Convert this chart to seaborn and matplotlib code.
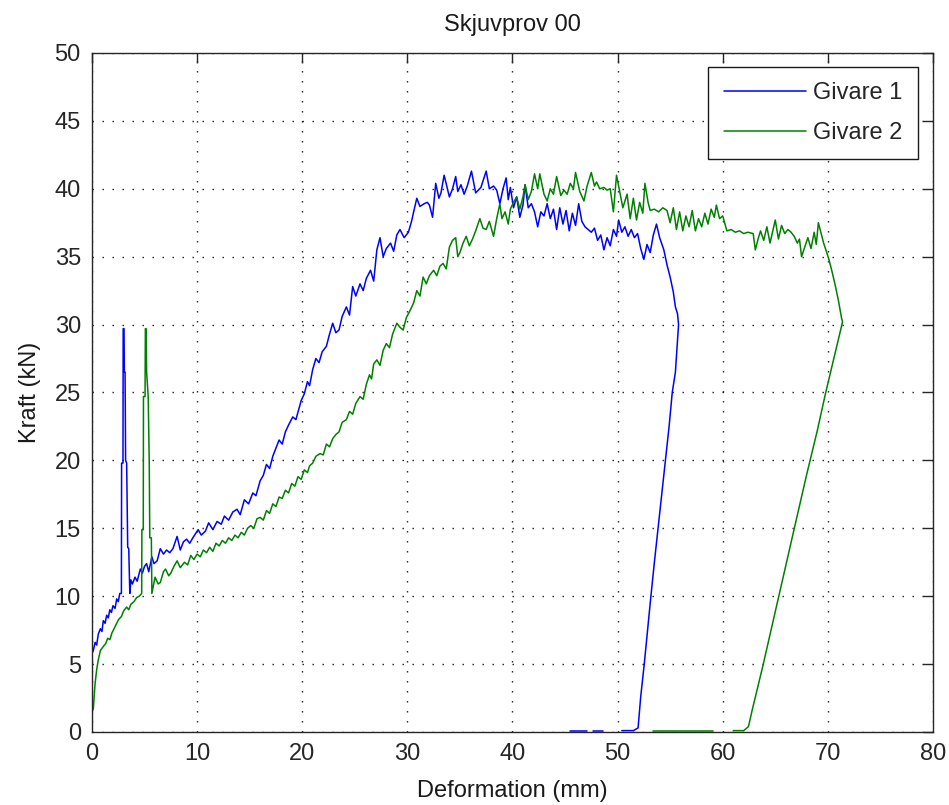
import numpy as np
import pandas as pd
import matplotlib
matplotlib.use("Agg")
import matplotlib.pyplot as plt
import seaborn as sns

# ---- Givare 1: loading / unloading curve (deformation mm, force kN) ----
g1_x = [0.0, 0.13, 0.3, 0.45, 0.6, 0.8, 0.95, 1.08, 1.25, 1.4, 1.55, 1.7, 1.85, 2.0, 2.2,
        2.35, 2.5, 2.65, 2.8, 2.82, 2.95, 2.97, 3.05, 3.08, 3.15, 3.2, 3.3, 3.4, 3.5, 3.6,
        3.7, 3.85, 4.1, 4.3, 4.6, 4.8, 5.0, 5.2, 5.4, 5.7, 5.9, 6.2, 6.5, 6.8, 7.1, 7.4,
        7.7, 8.1, 8.4, 8.7, 9.0, 9.3, 9.6, 10.1, 10.4, 10.8, 11.1, 11.5, 11.9, 12.3, 12.6,
        13.0, 13.4, 13.8, 14.1, 14.5, 14.9, 15.3, 15.6, 16.0, 16.3, 16.6, 16.9, 17.2, 17.5,
        17.8, 18.1, 18.4, 18.7, 19.1, 19.4, 19.9, 20.2, 20.5, 20.7, 21.0, 21.3, 21.6, 21.9,
        22.3, 22.6, 22.9, 23.2, 23.5, 23.8, 24.2, 24.5, 24.8, 25.1, 25.5, 25.8, 26.1, 26.5,
        26.8, 27.1, 27.4, 27.7, 28.0, 28.4, 28.7, 29.0, 29.3, 29.7, 30.1, 30.4, 30.6, 30.9,
        31.2, 31.6, 31.9, 32.1, 32.4, 32.7, 33.0, 33.2, 33.5, 34.0, 34.3, 34.6, 34.8, 35.1,
        35.4, 35.7, 36.1, 36.5, 37.0, 37.5, 37.8, 38.2, 38.5, 38.8, 39.1, 39.4, 39.6, 39.8,
        40.1, 40.4, 40.7, 41.0, 41.2, 41.5, 41.8, 42.1, 42.4, 42.7, 43.0, 43.3, 43.6, 43.9,
        44.2, 44.5, 44.8, 45.1, 45.4, 45.7, 46.0, 46.3, 46.6, 46.9, 47.2, 47.5, 47.8, 48.1,
        48.4, 48.7, 49.0, 49.3, 49.6, 49.9, 50.1, 50.4, 50.7, 51.0, 51.3, 51.6, 51.9, 52.2,
        52.5, 52.8, 53.1, 53.4, 53.7, 54.0, 54.4, 54.7, 55.0, 55.3, 55.5, 55.7, 55.8, 55.5,
        55.2, 54.9, 54.55, 54.2, 53.85, 53.5, 53.13, 52.95, 52.55, 52.2, 51.95, 51.5, 50.4]
g1_y = [5.8, 6.0, 6.6, 6.4, 7.2, 7.6, 7.4, 8.2, 8.0, 8.6, 8.4, 9.0, 8.8, 9.3, 9.1,
        9.8, 9.6, 10.2, 10.2, 19.8, 19.8, 29.7, 29.7, 26.5, 26.5, 20.0, 19.8, 13.6, 13.5, 10.2,
        11.2, 10.9, 11.4, 11.1, 12.0, 11.7, 12.2, 12.4, 11.8, 12.9, 12.4, 12.6, 13.5, 13.1, 13.4, 13.2,
        13.5, 14.4, 13.4, 14.0, 14.2, 13.9, 14.3, 14.9, 14.5, 14.8, 15.4, 14.9, 15.5, 15.3, 15.9,
        15.6, 16.2, 16.4, 16.0, 17.1, 16.8, 17.6, 17.4, 18.5, 18.9, 19.7, 19.4, 20.3, 20.9,
        21.5, 21.2, 22.1, 22.6, 23.2, 23.0, 24.4, 24.9, 25.8, 25.5, 26.7, 27.5, 27.2, 28.0,
        28.4, 29.3, 30.1, 29.4, 29.6, 30.6, 31.3, 30.7, 32.8, 32.1, 33.0, 32.5, 33.4, 34.0,
        33.2, 35.5, 36.4, 35.0, 35.6, 36.0, 35.4, 36.6, 37.0, 36.4, 36.8, 37.6, 38.3, 39.3,
        38.7, 38.9, 39.0, 38.8, 37.9, 40.4, 39.3, 39.7, 41.0, 39.4, 40.0, 40.9, 39.8, 40.3,
        39.6, 40.2, 41.3, 39.7, 40.1, 41.3, 40.0, 40.2, 39.9, 38.9, 40.0, 40.8, 39.2, 40.1,
        38.6, 39.4, 37.9, 38.8, 40.3, 38.6, 38.9, 38.3, 37.2, 38.3, 38.0, 38.9, 37.8, 38.5,
        37.0, 38.6, 37.4, 38.4, 36.9, 38.2, 37.3, 38.9, 37.6, 37.2, 37.0, 36.8, 37.1, 36.2,
        36.6, 35.5, 36.4, 35.8, 37.0, 36.5, 37.7, 36.8, 37.2, 36.5, 37.0, 36.4, 36.7, 35.6,
        34.8, 35.9, 35.3, 36.6, 37.4, 36.4, 35.5, 34.4, 33.5, 32.4, 31.3, 30.8, 30.0, 26.5,
        25.0, 22.5, 20.0, 17.5, 15.0, 12.5, 9.7, 8.25, 5.1, 2.6, 0.3, 0.1, 0.1]
g1_tail_a_x = [48.65, 47.7]
g1_tail_a_y = [0.1, 0.1]
g1_tail_b_x = [47.1, 45.5]
g1_tail_b_y = [0.1, 0.1]

# ---- Givare 2 ----
g2_x = [0.0, 0.13, 0.29, 0.45, 0.6, 0.8, 1.08, 1.3, 1.5, 1.71, 1.9, 2.1, 2.35, 2.55, 2.8,
        3.0, 3.3, 3.5, 3.7, 4.0, 4.25, 4.5, 4.73, 4.75, 4.88, 4.9, 5.05, 5.08, 5.15, 5.2,
        5.35, 5.45, 5.5, 5.65, 5.7, 6.0, 6.3, 6.5, 6.8, 7.0, 7.3, 7.5, 7.8, 8.1, 8.4, 8.8,
        9.1, 9.4, 9.7, 10.0, 10.3, 10.6, 10.9, 11.2, 11.5, 11.8, 12.1, 12.4, 12.7, 13.0,
        13.3, 13.6, 13.9, 14.2, 14.5, 14.8, 15.1, 15.4, 15.7, 16.0, 16.3, 16.6, 16.9, 17.2,
        17.5, 17.8, 18.1, 18.4, 18.7, 19.0, 19.3, 19.6, 19.9, 20.2, 20.5, 20.7, 21.0, 21.3,
        21.7, 22.0, 22.3, 22.6, 22.9, 23.2, 23.5, 23.8, 24.2, 24.5, 24.8, 25.1, 25.5, 25.8,
        26.1, 26.4, 26.6, 26.8, 27.1, 27.4, 27.7, 28.0, 28.3, 28.6, 29.0, 29.3, 29.6, 29.9,
        30.3, 30.6, 30.9, 31.2, 31.5, 31.8, 32.1, 32.5, 32.8, 33.1, 33.4, 33.7, 34.0, 34.3,
        34.6, 34.8, 35.0, 35.3, 35.6, 35.9, 36.2, 36.5, 36.9, 37.2, 37.5, 37.8, 38.2, 38.5,
        38.8, 39.0, 39.3, 39.6, 39.8, 40.1, 40.4, 40.7, 41.0, 41.2, 41.5, 41.8, 42.1, 42.4,
        42.6, 43.0, 43.3, 43.6, 43.9, 44.2, 44.6, 44.9, 45.2, 45.5, 45.8, 46.0, 46.4, 46.8,
        47.1, 47.5, 47.8, 48.0, 48.3, 48.7, 49.0, 49.3, 49.6, 49.9, 50.2, 50.5, 50.9, 51.2,
        51.5, 51.8, 52.1, 52.4, 52.6, 52.9, 53.1, 53.5, 53.9, 54.3, 54.7, 55.0, 55.3, 55.6,
        55.9, 56.2, 56.5, 56.8, 57.1, 57.4, 57.7, 58.0, 58.3, 58.6, 58.9, 59.2, 59.4, 59.7,
        60.0, 60.4, 60.8, 61.2, 61.6, 62.0, 62.4, 62.9, 63.1, 63.4, 63.6, 63.9, 64.2, 64.5,
        64.8, 65.0, 65.3, 65.6, 65.9, 66.2, 66.5, 66.8, 67.1, 67.3, 67.5, 67.8, 68.1, 68.4,
        68.7, 68.9, 69.1, 69.4, 69.6, 69.9, 70.1, 70.4, 70.7, 71.0, 71.3, 71.4, 70.6, 69.8,
        69.0, 68.0, 66.9, 65.25, 64.6, 63.8, 62.8, 62.45, 62.0, 61.0]
g2_y = [1.5, 1.7, 3.5, 4.6, 5.3, 6.0, 6.3, 6.5, 6.9, 6.8, 7.3, 7.6, 8.0, 8.3, 8.5,
        8.9, 9.2, 9.0, 9.4, 9.6, 9.9, 10.0, 10.2, 14.9, 14.9, 24.7, 24.7, 29.7, 29.7, 26.5,
        24.7, 19.8, 14.3, 14.3, 10.2, 11.4, 10.9, 11.0, 11.8, 12.0, 11.5, 11.7, 12.2, 12.6, 12.1, 12.5,
        12.3, 13.0, 12.7, 13.1, 12.9, 13.4, 13.2, 13.6, 13.3, 13.9, 13.7, 14.1, 13.9, 14.3,
        14.1, 14.5, 14.3, 14.7, 14.5, 15.0, 15.2, 15.0, 15.7, 15.8, 15.6, 16.3, 16.1, 16.8,
        16.6, 17.3, 17.2, 17.8, 17.6, 18.3, 18.1, 18.8, 18.6, 19.3, 19.1, 19.6, 19.8, 20.3,
        20.5, 20.4, 21.2, 21.0, 21.6, 21.9, 22.1, 22.8, 23.0, 23.6, 23.4, 24.2, 24.7, 24.5,
        25.6, 26.3, 26.0, 27.1, 27.4, 27.0, 28.1, 28.6, 28.3, 29.3, 30.1, 29.8, 29.6, 30.5,
        31.1, 31.6, 32.5, 32.1, 33.5, 33.0, 33.6, 34.0, 33.6, 34.3, 34.5, 34.1, 35.7, 36.2,
        36.4, 35.0, 35.3, 36.0, 36.5, 35.8, 36.3, 36.9, 37.8, 37.1, 37.0, 37.6, 36.5, 37.8,
        38.9, 37.8, 38.3, 37.4, 38.5, 39.0, 39.4, 38.5, 39.4, 40.3, 39.2, 39.8, 41.1, 40.0,
        41.1, 39.6, 39.1, 40.0, 39.6, 40.9, 39.5, 39.9, 39.6, 40.4, 40.0, 41.2, 39.8, 39.1,
        40.2, 41.2, 40.2, 40.5, 40.0, 40.1, 39.9, 40.0, 38.3, 41.0, 39.8, 38.6, 39.6, 37.8,
        39.3, 37.7, 39.0, 38.2, 40.4, 39.0, 38.4, 38.5, 38.3, 38.6, 38.4, 37.5, 38.6, 37.0,
        38.3, 36.9, 38.0, 37.2, 38.4, 36.9, 37.8, 37.2, 38.2, 37.4, 38.5, 37.9, 38.8, 37.8,
        38.0, 36.9, 37.0, 36.8, 36.9, 36.7, 36.8, 36.7, 35.5, 36.4, 36.9, 36.2, 37.2, 36.0,
        37.0, 37.7, 36.3, 37.3, 36.7, 37.0, 36.8, 36.5, 36.0, 36.3, 35.0, 35.7, 36.4, 35.6,
        36.8, 35.9, 37.5, 36.6, 36.0, 35.3, 34.8, 33.9, 32.9, 31.8, 30.5, 30.2, 27.6, 25.0,
        22.2, 19.0, 15.3, 9.7, 7.5, 4.8, 1.6, 0.4, 0.1, 0.1]
g2_tail_x = [59.1, 53.4]
g2_tail_y = [0.1, 0.1]

x_ticks = [0, 10, 20, 30, 40, 50, 60, 70, 80]
y_ticks = [0, 5, 10, 15, 20, 25, 30, 35, 40, 45, 50]

# Assemble long-form table: each segment is its own unit
frames = []
for name, seg, xs, ys in [
    ("Givare 1", "g1_main", g1_x, g1_y),
    ("Givare 1", "g1_tail_a", g1_tail_a_x, g1_tail_a_y),
    ("Givare 1", "g1_tail_b", g1_tail_b_x, g1_tail_b_y),
    ("Givare 2", "g2_main", g2_x, g2_y),
    ("Givare 2", "g2_tail", g2_tail_x, g2_tail_y),
]:
    frames.append(pd.DataFrame({"Deformation": xs, "Kraft": ys,
                                "Givare": name, "segment": seg}))
df = pd.concat(frames, ignore_index=True)

sns.set_style("white")
plt.rcParams["font.family"] = ["Liberation Sans", "DejaVu Sans"]

fig = plt.figure(figsize=(9.49, 8.05), dpi=100)
ax = fig.add_axes([0.0969, 0.0907, 0.8862, 0.8435])

palette = {"Givare 1": (0.0, 0.0, 1.0), "Givare 2": (0.0, 0.5, 0.0)}
sns.lineplot(data=df, x="Deformation", y="Kraft", hue="Givare", units="segment",
             estimator=None, sort=False, palette=palette, linewidth=1.1, ax=ax,
             legend=False)

ax.set_xlim(0, 80)
ax.set_ylim(0, 50)
ax.set_xticks(x_ticks)
ax.set_yticks(y_ticks)
ax.grid(True, color="0.1", linestyle=(0, (1, 6.2)), linewidth=1.0)
ax.set_axisbelow(True)

for sp in ax.spines.values():
    sp.set_visible(True)
    sp.set_color("0.15")
    sp.set_linewidth(1.0)

ax.tick_params(direction="in", length=7, width=1.0, color="0.15",
               top=True, right=True, labelsize=17, pad=8, labelcolor="0.15")

ax.set_title("Skjuvprov 00", fontsize=17, pad=16, color="0.1")
ax.set_xlabel("Deformation (mm)", fontsize=17, labelpad=11, color="0.1")
ax.set_ylabel("Kraft (kN)", fontsize=17, labelpad=10, color="0.1")

handles = [plt.Line2D([], [], color=palette["Givare 1"], lw=1.1),
           plt.Line2D([], [], color=palette["Givare 2"], lw=1.1)]
leg = ax.legend(handles, ["Givare 1", "Givare 2"], loc="upper right",
                bbox_to_anchor=(0.9822, 0.9794), borderaxespad=0.0,
                fontsize=17, frameon=True, fancybox=False, framealpha=1,
                edgecolor="0.1", handlelength=3.5, handletextpad=0.3,
                labelspacing=0.75, borderpad=0.65)
leg.get_frame().set_linewidth(1.0)

fig.savefig("out.png", dpi=100)
